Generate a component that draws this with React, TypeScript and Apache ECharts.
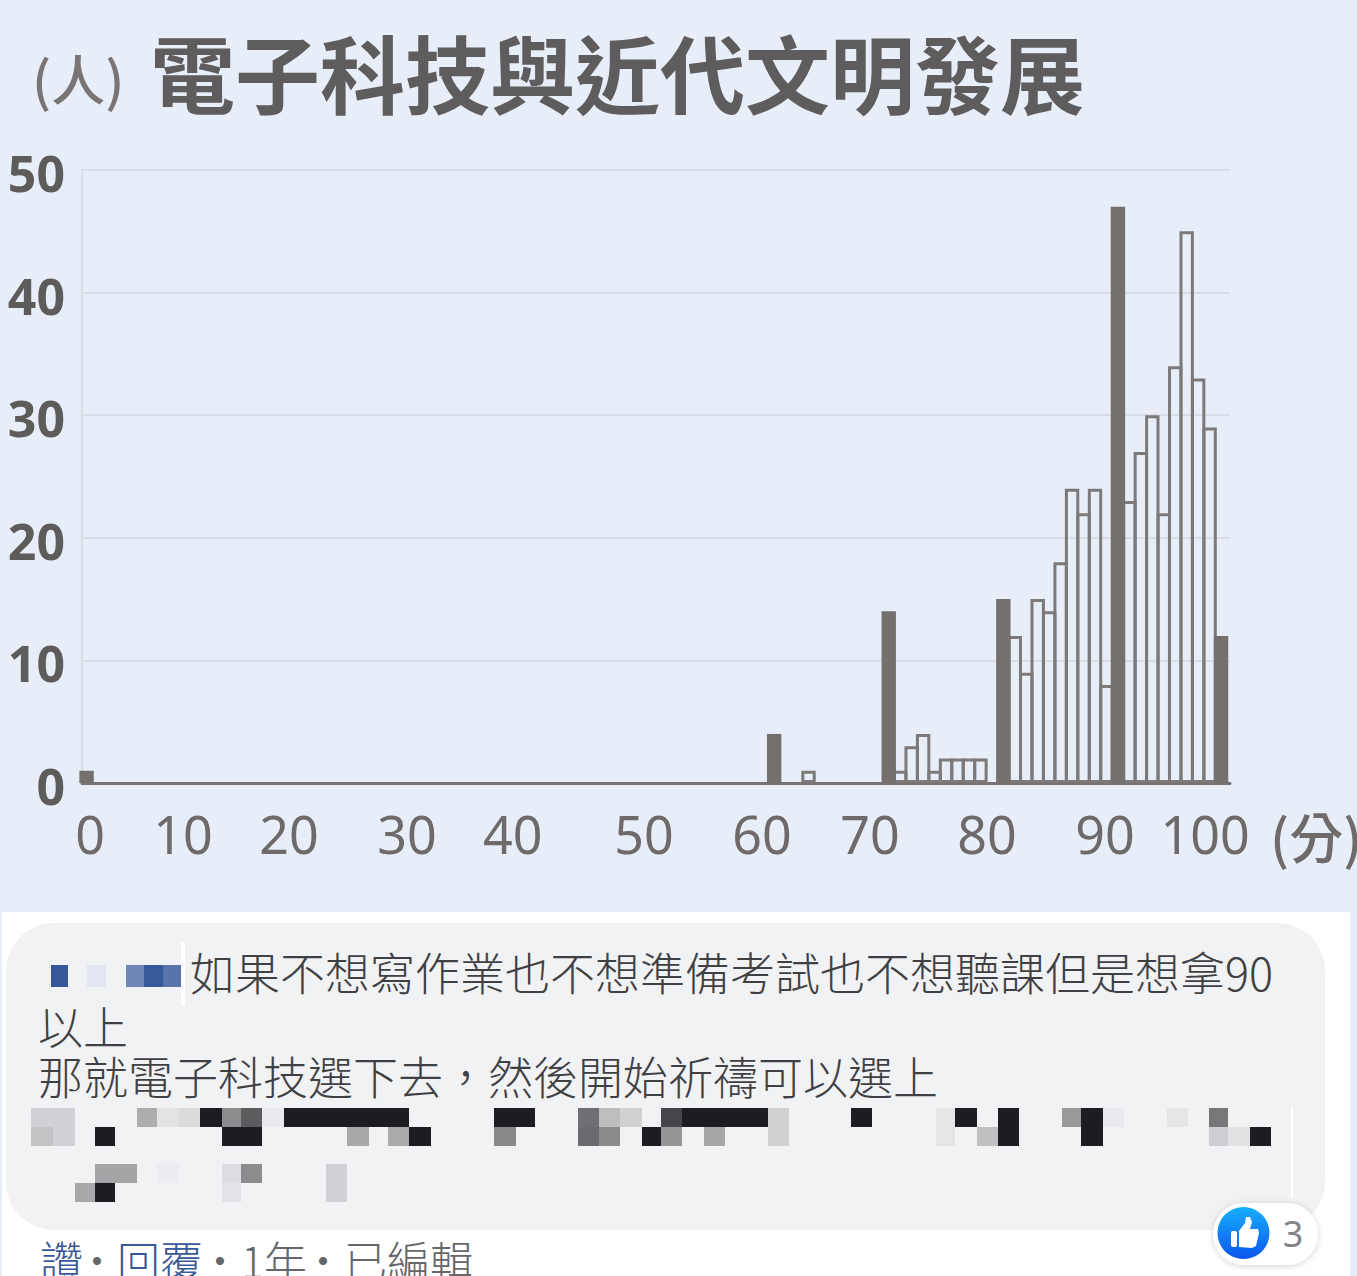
import React, { useEffect, useRef } from "react";
import * as echarts from "echarts";

const titleText = "電子科技與近代文明發展";
const yUnit = "(人)";
const xUnit = "(分)";

// solid dark bars
const solidScores = [0, 60, 70, 80, 90, 99];
const solidCounts = [1, 4, 14, 15, 47, 12];

// hollow bars
const hollowScores = [63, 71, 72, 73, 74, 75, 76, 77, 78, 81, 82, 83, 84, 85, 86, 87, 88, 89, 91, 92, 93, 94, 95, 96, 97, 98];
const hollowCounts = [1, 1, 3, 4, 1, 2, 2, 2, 2, 12, 9, 15, 14, 18, 24, 22, 24, 8, 23, 27, 30, 22, 34, 45, 33, 29];

const yTicks = [0, 10, 20, 30, 40, 50];
// the printed score labels sit unevenly along the axis in the reference
const xTickLabels = ["0", "10", "20", "30", "40", "50", "60", "70", "80", "90", "100"];
const xTickAt = [0.3, 8.41, 17.66, 27.96, 37.2, 48.64, 58.94, 68.36, 78.57, 88.87, 97.6];

const commentLine1 = "如果不想寫作業也不想準備考試也不想聽課但是想拿90";
const commentLine2 = "以上";
const commentLine3 = "那就電子科技選下去，然後開始祈禱可以選上";
const likeCount = "3";

const K = "#1c1d21";
// mosaic blocks: x0, x1, y0, y1, colour
const mosaic: [number, number, number, number, string][] = [
  [51, 68, 965, 987, "#36589b"], [87, 106, 965, 987, "#e1e6f0"], [126, 144, 965, 987, "#6f86b7"],
  [144, 163, 965, 987, "#38599b"], [163, 181, 965, 987, "#5974ab"],
  [31, 75, 1108, 1127, "#d0d1d4"], [137, 157, 1108, 1127, "#adadae"], [157, 179, 1108, 1127, "#e2e3e5"],
  [179, 200, 1108, 1127, "#dadbdd"], [200, 222, 1108, 1127, K], [222, 241, 1108, 1127, "#8b8c8e"],
  [241, 262, 1108, 1127, "#5b5c5e"], [262, 284, 1108, 1127, "#e9eaee"], [284, 409, 1108, 1127, K],
  [494, 535, 1108, 1127, K], [578, 599, 1108, 1127, "#6f7073"], [599, 620, 1108, 1127, "#bcbdbe"],
  [620, 642, 1108, 1127, "#d0d1d3"], [661, 682, 1108, 1127, "#454649"], [682, 768, 1108, 1127, K],
  [768, 789, 1108, 1146, "#d0d1d3"], [851, 872, 1108, 1127, K], [936, 955, 1108, 1146, "#e4e5e7"],
  [955, 977, 1108, 1127, K], [998, 1019, 1108, 1146, K], [1062, 1081, 1108, 1127, "#9a9a9c"],
  [1081, 1103, 1108, 1146, K], [1103, 1124, 1108, 1127, "#e9eaed"], [1167, 1188, 1108, 1127, "#e4e5e7"],
  [1209, 1228, 1108, 1127, "#777779"],
  [31, 53, 1127, 1146, "#c2c3c5"], [53, 75, 1127, 1146, "#d0d1d4"], [95, 115, 1127, 1146, K],
  [222, 262, 1127, 1146, K], [347, 369, 1127, 1146, "#a9a9ab"], [388, 409, 1127, 1146, "#a9aaab"],
  [409, 431, 1127, 1146, K], [494, 516, 1127, 1146, "#89898b"], [578, 599, 1127, 1146, "#6a6b6e"],
  [599, 620, 1127, 1146, "#8a8b8d"], [642, 661, 1127, 1146, K], [661, 682, 1127, 1146, "#959697"],
  [704, 725, 1127, 1146, "#a6a6a8"], [977, 998, 1127, 1146, "#bfc0c2"], [1209, 1228, 1127, 1146, "#cdced1"],
  [1228, 1250, 1127, 1146, "#e1e2e4"], [1250, 1271, 1127, 1146, K],
  [95, 137, 1164, 1183, "#a5a5a7"], [157, 179, 1164, 1183, "#ecedf0"], [222, 241, 1164, 1183, "#dcdde0"],
  [241, 262, 1164, 1183, "#8b8c8e"], [326, 347, 1164, 1202, "#d0d1d4"],
  [75, 95, 1183, 1202, "#a8a8aa"], [95, 115, 1183, 1202, K], [222, 241, 1183, 1202, "#e2e3e6"],
];

const CJK = '"Noto Sans CJK TC", "Noto Sans", sans-serif';
const DARK = "#74706e";
const GRID = "#d9dde6";

function txt(text: string, x: number, y: number, size: number, fill: string, weight: any = 300, align = "left") {
  return {
    type: "text", z: 5, x, y,
    style: { text, fill, font: `${weight} ${size}px ${CJK}`, align, verticalAlign: "middle" },
  };
}

export default function App() {
  const ref = useRef<HTMLDivElement>(null);
  useEffect(() => {
    document.body.style.margin = "0";
    document.body.style.background = "#e7eef8";
    const chart = echarts.init(ref.current!, null, { renderer: "svg" });
    const barW = 14.4;
    const graphics: any[] = [
      { type: "rect", z: 1, shape: { x: 2, y: 912, width: 1348, height: 364 }, style: { fill: "#ffffff" } },
      { type: "rect", z: 2, shape: { x: 6, y: 923, width: 1319, height: 307, r: 48 }, style: { fill: "#f1f2f4" } },
      { type: "rect", z: 3, shape: { x: 181, y: 942, width: 4, height: 63 }, style: { fill: "#ffffff" } },
      { type: "rect", z: 3, shape: { x: 1291, y: 1108, width: 2, height: 90 }, style: { fill: "#ffffff" } },
      ...mosaic.map(([x0, x1, y0, y1, c]) => ({
        type: "rect", z: 4, shape: { x: x0, y: y0, width: x1 - x0, height: y1 - y0 }, style: { fill: c },
      })),
      txt(yUnit, 32, 77, 54, "#7a7574", 500),
      txt(xUnit, 1270, 835, 54, "#6f6b6a", 500),
      txt(commentLine1, 190, 971, 45, "#3f4043"),
      txt(commentLine2, 38, 1025, 45, "#3f4043"),
      txt(commentLine3, 38, 1075, 45, "#3f4043"),
      txt("讚", 40, 1259, 43, "#385898"),
      txt("·", 97, 1259, 43, "#65676b", 300, "center"),
      txt("回覆", 117, 1259, 43, "#385898"),
      txt("·", 220, 1259, 43, "#65676b", 300, "center"),
      txt("1年", 241, 1259, 43, "#65676b"),
      txt("·", 323, 1259, 43, "#65676b", 300, "center"),
      txt("已編輯", 344, 1259, 43, "#65676b"),
      {
        type: "rect", z: 6, shape: { x: 1213, y: 1203, width: 105, height: 62, r: 31 },
        style: { fill: "#ffffff", shadowBlur: 6, shadowColor: "rgba(0,0,0,0.18)", shadowOffsetY: 1 },
      },
      {
        type: "circle", z: 7, shape: { cx: 1243.5, cy: 1233, r: 26 },
        style: {
          fill: new echarts.graphic.LinearGradient(0, 0, 0, 1, [
            { offset: 0, color: "#18aefc" }, { offset: 1, color: "#0a56ee" },
          ]),
        },
      },
      { type: "rect", z: 8, shape: { x: 1231, y: 1231, width: 6, height: 16, r: 2 }, style: { fill: "#ffffff" } },
      {
        type: "polygon", z: 8,
        shape: { points: [[1239, 1231], [1245, 1223], [1246, 1217], [1250, 1217], [1252, 1222], [1250, 1229], [1258, 1229], [1259, 1233], [1256, 1246], [1252, 1248], [1239, 1247]] },
        style: { fill: "#ffffff" },
      },
      {
        type: "text", z: 8, x: 1293, y: 1233,
        style: { text: likeCount, fill: "#83858a", font: '400 36px "Noto Sans", sans-serif', align: "center", verticalAlign: "middle" },
      },
    ];
    chart.setOption({
      animation: false,
      backgroundColor: "#e7eef8",
      textStyle: { fontFamily: "Noto Sans" },
      title: {
        text: titleText, left: 145, top: 23,
        textStyle: { fontFamily: CJK, fontSize: 85, fontWeight: 700, color: "#5e5c5c" },
      },
      grid: { left: 82, top: 170, width: 1148, height: 613, containLabel: false },
      xAxis: {
        type: "value", min: -0.4, max: 99.78, splitLine: { show: false },
        axisLine: { show: true, onZero: false, lineStyle: { color: "#787372", width: 3 } },
        axisTick: { show: false },
        axisLabel: {
          customValues: xTickAt,
          formatter: (v: number) => xTickLabels[xTickAt.indexOf(v)],
          fontFamily: "Noto Sans", fontSize: 52, color: "#6d6a69", margin: 24, hideOverlap: false,
        },
      },
      yAxis: {
        type: "value", min: yTicks[0], max: yTicks[yTicks.length - 1], interval: 10,
        axisLine: { show: true, onZero: false, lineStyle: { color: GRID, width: 2 } },
        axisTick: { show: false },
        splitLine: { show: true, lineStyle: { color: GRID, width: 2 } },
        axisLabel: {
          margin: 17,
          formatter: (v: number) => `{t|${v}}`,
          rich: {
            t: { fontFamily: "Noto Sans", fontWeight: 700, fontSize: 50, color: "#5e5b5b", padding: [6, 0, 0, 0] },
          },
        },
      },
      graphic: graphics,
      series: [
        {
          type: "bar", name: "hollow", barWidth: barW, barGap: "-100%", z: 2, silent: true,
          data: hollowScores.map((s, i) => [s, hollowCounts[i]]),
          itemStyle: { color: "rgba(231,238,248,0)", borderColor: "#7d7978", borderWidth: 3 },
        },
        {
          type: "bar", name: "solid", barWidth: barW, barGap: "-100%", z: 3, silent: true,
          data: solidScores.map((s, i) => [s, solidCounts[i]]),
          itemStyle: { color: DARK, borderColor: DARK, borderWidth: 0 },
        },
      ],
    });
    return () => chart.dispose();
  }, []);
  return <div ref={ref} style={{ width: 1357, height: 1276, position: "absolute", left: 0, top: 0 }} />;
}
